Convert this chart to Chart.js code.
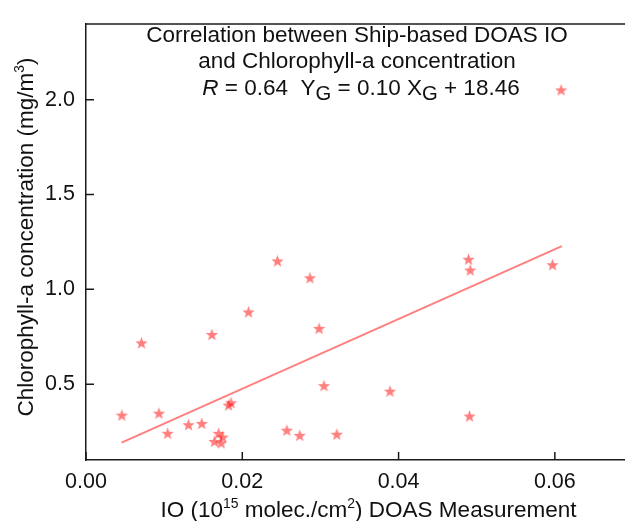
<!DOCTYPE html>
<html>
<head>
<meta charset="utf-8">
<script src="https://cdn.jsdelivr.net/npm/chart.js@4"></script>
<style>
  html, body { margin: 0; padding: 0; background: #fff; overflow: hidden; }
  #wrap { width: 640px; height: 521px; }
</style>
</head>
<body>
<div id="wrap"><canvas id="c" width="640" height="521"></canvas></div>
<script>
// ---- data ----
const ioValues  = [0.0608, 0.00459, 0.0071, 0.00934, 0.01045, 0.01312, 0.01482, 0.01611, 0.01643, 0.01698,
                   0.01749, 0.01729, 0.01825, 0.01856, 0.0208, 0.0245, 0.0257, 0.02735, 0.02866, 0.02983,
                   0.03045, 0.0321, 0.0389, 0.04895, 0.04917, 0.04908, 0.0597];
const chlValues = [2.052, 0.337, 0.718, 0.347, 0.241, 0.286, 0.293, 0.762, 0.198, 0.241,
                   0.221, 0.190, 0.390, 0.402, 0.881, 1.150, 0.257, 0.230, 1.061, 0.794,
                   0.492, 0.236, 0.463, 1.159, 1.102, 0.332, 1.130];
const fitX = [0.00455, 0.0609];
const fitY = [0.192, 1.228];
const xTicks = [0.00, 0.02, 0.04, 0.06];
const yTicks = [0.5, 1.0, 1.5, 2.0];
const titleLines = ['Correlation between Ship-based DOAS IO', 'and Chlorophyll-a concentration'];

const FONT = "'Liberation Sans', Arial, Helvetica, sans-serif";
const MARK = 'rgba(255,0,0,0.5)';
const AXIS = '#1a1a1a';

// star marker image
function makeStar(size) {
  const c = document.createElement('canvas');
  c.width = size; c.height = size;
  const g = c.getContext('2d');
  const cx = size / 2, cy = size / 2 + 0.6, R = size / 2, r = R * 0.42;
  g.beginPath();
  for (let i = 0; i < 10; i++) {
    const ang = -Math.PI / 2 + i * Math.PI / 5;
    const rad = i % 2 === 0 ? R : r;
    const px = cx + rad * Math.cos(ang), py = cy + rad * Math.sin(ang);
    if (i === 0) g.moveTo(px, py); else g.lineTo(px, py);
  }
  g.closePath();
  g.fillStyle = MARK;
  g.fill();
  return c;
}
const star = makeStar(13);

const points = ioValues.map((v, i) => ({ x: v, y: chlValues[i] }));
const fitPts = fitX.map((v, i) => ({ x: v, y: fitY[i] }));

// draw a run of rich text; returns width
function runsWidth(ctx, runs, size) {
  let w = 0;
  runs.forEach(r => { ctx.font = fontOf(r, size); w += ctx.measureText(r.t).width; });
  return w;
}
function fontOf(r, size) {
  const s = r.sup || r.sub ? size * 0.62 : size;
  return (r.italic ? 'italic ' : '') + s + 'px ' + FONT;
}
function drawRuns(ctx, runs, x, y, size) {
  let cx = x;
  runs.forEach(r => {
    ctx.font = fontOf(r, size);
    let dy = 0;
    if (r.sup) dy = -size * 0.38;
    if (r.sub) dy = size * 0.22;
    ctx.fillText(r.t, cx, y + dy);
    cx += ctx.measureText(r.t).width;
  });
}

const decor = {
  id: 'decor',
  afterDraw(chart) {
    const { ctx, chartArea: a, scales: { x, y } } = chart;
    ctx.save();
    ctx.strokeStyle = AXIS;
    ctx.lineWidth = 1.5;
    ctx.beginPath();
    // top frame
    ctx.moveTo(a.left - 0.75, a.top);
    ctx.lineTo(a.right, a.top);
    // inward ticks
    x.ticks.forEach(t => {
      const px = x.getPixelForValue(t.value);
      ctx.moveTo(px, a.bottom);
      ctx.lineTo(px, a.bottom - 8);
    });
    y.ticks.forEach(t => {
      const py = y.getPixelForValue(t.value);
      ctx.moveTo(a.left, py);
      ctx.lineTo(a.left + 8, py);
    });
    ctx.stroke();

    ctx.fillStyle = '#111';
    ctx.textBaseline = 'alphabetic';
    ctx.textAlign = 'left';
    const tsize = 22.5;
    const cxT = 357;
    const base = [41.7, 68.3];
    titleLines.forEach((s, i) => {
      const runs = [{ t: s }];
      const w = runsWidth(ctx, runs, tsize);
      drawRuns(ctx, runs, cxT - w / 2, base[i], tsize);
    });
    const eq = [{ t: 'R', italic: true }, { t: ' = 0.64  Y' }, { t: 'G', sub: true, big: true },
                { t: ' = 0.10 X' }, { t: 'G', sub: true }, { t: ' + 18.46' }];
    // subscripts in reference are nearly full size
    const eqFont = (r, size) => (r.italic ? 'italic ' : '') + (r.sub ? size * 0.9 : size) + 'px ' + FONT;
    let w = 0;
    eq.forEach(r => { ctx.font = eqFont(r, tsize); w += ctx.measureText(r.t).width; });
    let ex = cxT + 4 - w / 2;
    eq.forEach(r => {
      ctx.font = eqFont(r, tsize);
      ctx.fillText(r.t, ex, 95 + (r.sub ? 5 : 0));
      ex += ctx.measureText(r.t).width;
    });

    // x axis title
    const xt = [{ t: 'IO (10' }, { t: '15', sup: true }, { t: ' molec./cm' }, { t: '2', sup: true },
                { t: ') DOAS Measurement' }];
    const xs = 22.5;
    const xw = runsWidth(ctx, xt, xs);
    drawRuns(ctx, xt, 368.5 - xw / 2, 516.5, xs);

    // y axis title
    const yt = [{ t: 'Chlorophyll-a concentration (mg/m' }, { t: '3', sup: true }, { t: ')' }];
    const yw = runsWidth(ctx, yt, xs);
    ctx.translate(32.5, 237);
    ctx.rotate(-Math.PI / 2);
    drawRuns(ctx, yt, -yw / 2, 0, xs);
    ctx.restore();
  }
};

new Chart(document.getElementById('c'), {
  data: {
    datasets: [
      { type: 'line', data: fitPts, borderColor: MARK, borderWidth: 2, pointRadius: 0, fill: false, order: 2 },
      { type: 'scatter', data: points, pointStyle: star, pointRadius: 6, order: 1 }
    ]
  },
  options: {
    responsive: false,
    animation: false,
    events: [],
    layout: { padding: { top: 16, right: 4.5, left: 0, bottom: 0 } },
    plugins: { legend: { display: false }, tooltip: { enabled: false } },
    scales: {
      x: {
        type: 'linear', min: 0, max: 0.07,
        afterBuildTicks: s => { s.ticks = xTicks.map(v => ({ value: v })); },
        afterFit: s => { s.height = 61; },
        grid: { display: true, drawOnChartArea: false, drawTicks: false },
        border: { display: true, color: AXIS, width: 1.5 },
        ticks: { color: '#111', font: { family: FONT, size: 21.5 }, padding: 9,
                 maxRotation: 0, callback: v => Number(v).toFixed(2) }
      },
      y: {
        type: 'linear', min: 0.1, max: 2.4,
        afterBuildTicks: s => { s.ticks = yTicks.map(v => ({ value: v })); },
        afterFit: s => { s.width = 86; },
        grid: { display: true, drawOnChartArea: false, drawTicks: false },
        border: { display: true, color: AXIS, width: 1.5 },
        ticks: { color: '#111', font: { family: FONT, size: 21.5 }, padding: 11,
                 callback: v => Number(v).toFixed(1) }
      }
    }
  },
  plugins: [decor]
});
</script>
</body>
</html>
